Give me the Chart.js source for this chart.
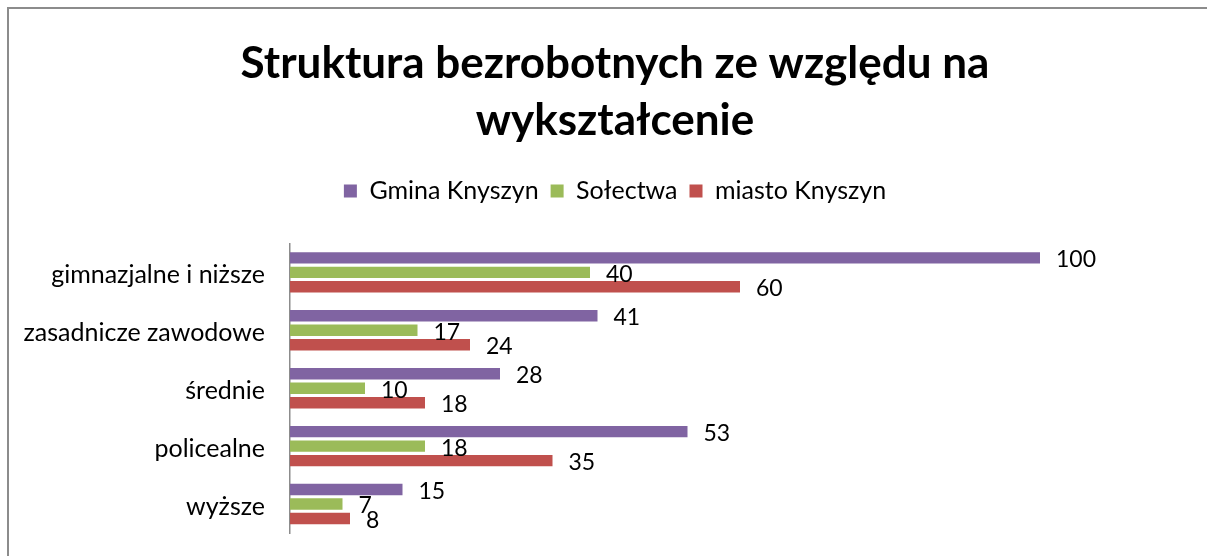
<!DOCTYPE html>
<html>
<head>
<meta charset="utf-8">
<script src="https://cdn.jsdelivr.net/npm/chart.js@4"></script>
<style>
  html, body { margin: 0; padding: 0; background: #fff; overflow: hidden; }
  #wrap { position: relative; width: 1207px; height: 556px; }
  #bars { display: block; }
  #frame {
    position: absolute; left: 7px; top: 7px; width: 1400px; height: 800px;
    border: 2px solid #8c8c8c; pointer-events: none;
  }
</style>
</head>
<body>
<div id="wrap">
  <canvas id="bars"></canvas>
  <div id="frame"></div>
</div>
<script>
// data
const categories = ['gimnazjalne i niższe', 'zasadnicze zawodowe', 'średnie', 'policealne', 'wyższe'];
const gmina = [100, 41, 28, 53, 15];
const solectwa = [40, 17, 10, 18, 7];
const miasto = [60, 24, 18, 35, 8];

const FONT = 'Lato, "Open Sans", sans-serif';

// value labels at the end of every bar (like Excel "outside end")
const valueLabels = {
  id: 'valueLabels',
  afterDatasetsDraw(chart) {
    const ctx = chart.ctx;
    ctx.save();
    ctx.font = '23px ' + FONT;
    ctx.fillStyle = '#000';
    ctx.textAlign = 'left';
    ctx.textBaseline = 'middle';
    chart.data.datasets.forEach((ds, i) => {
      chart.getDatasetMeta(i).data.forEach((bar, j) => {
        ctx.fillText(ds.data[j], bar.x + 16, bar.y + 2);
      });
    });
    ctx.restore();
  }
};

// the left padding only serves to centre title/legend like the original,
// so let the category labels spill into it without being clipped
const unclipLabels = {
  id: 'unclipLabels',
  afterLayout(chart) { chart.scales.y.left = 0; }
};

const barConfig = {
  type: 'bar',
  data: {
    labels: categories,
    datasets: [
      { label: 'Gmina Knyszyn', data: gmina, backgroundColor: '#8064A2' },
      { label: 'Sołectwa', data: solectwa, backgroundColor: '#9BBB59' },
      { label: 'miasto Knyszyn', data: miasto, backgroundColor: '#C0504D' },
    ],
  },
  options: {
    indexAxis: 'y',
    responsive: true,
    maintainAspectRatio: false,
    animation: false,
    categoryPercentage: 0.75,
    barPercentage: 0.79,
    layout: { padding: { left: 40, right: 17, top: 0, bottom: 23 } },
    plugins: {
      title: {
        display: true,
        text: ['Struktura bezrobotnych ze względu na', 'wykształcenie'],
        color: '#000',
        font: { family: FONT, size: 44, weight: 'bold', lineHeight: 1.3 },
        padding: { top: 35, bottom: 17 },
      },
      legend: {
        display: true,
        position: 'top',
        labels: {
          color: '#000',
          font: { family: FONT, size: 25 },
          boxWidth: 13,
          boxHeight: 13,
          padding: 12,
        },
      },
      tooltip: { enabled: false },
    },
    scales: {
      x: {
        position: 'top',
        min: 0,
        max: 120,
        grid: { display: false, drawTicks: false },
        border: { display: false },
        ticks: { display: false },
        afterFit(scale) { scale.height = 30; },
      },
      y: {
        grid: { display: false, drawTicks: false },
        border: { display: true, color: '#8c8c8c', width: 1.5 },
        ticks: { color: '#000', font: { family: FONT, size: 25 }, padding: 25, labelOffset: 3 },
        afterFit(scale) {
          scale.width = 250;
          scale.paddingTop = 0;
          scale.paddingBottom = 0;
        },
      },
    },
  },
  plugins: [valueLabels, unclipLabels],
};

const barCtx = document.getElementById('bars');
window.myBars = new Chart(barCtx, barConfig);
</script>
</body>
</html>
